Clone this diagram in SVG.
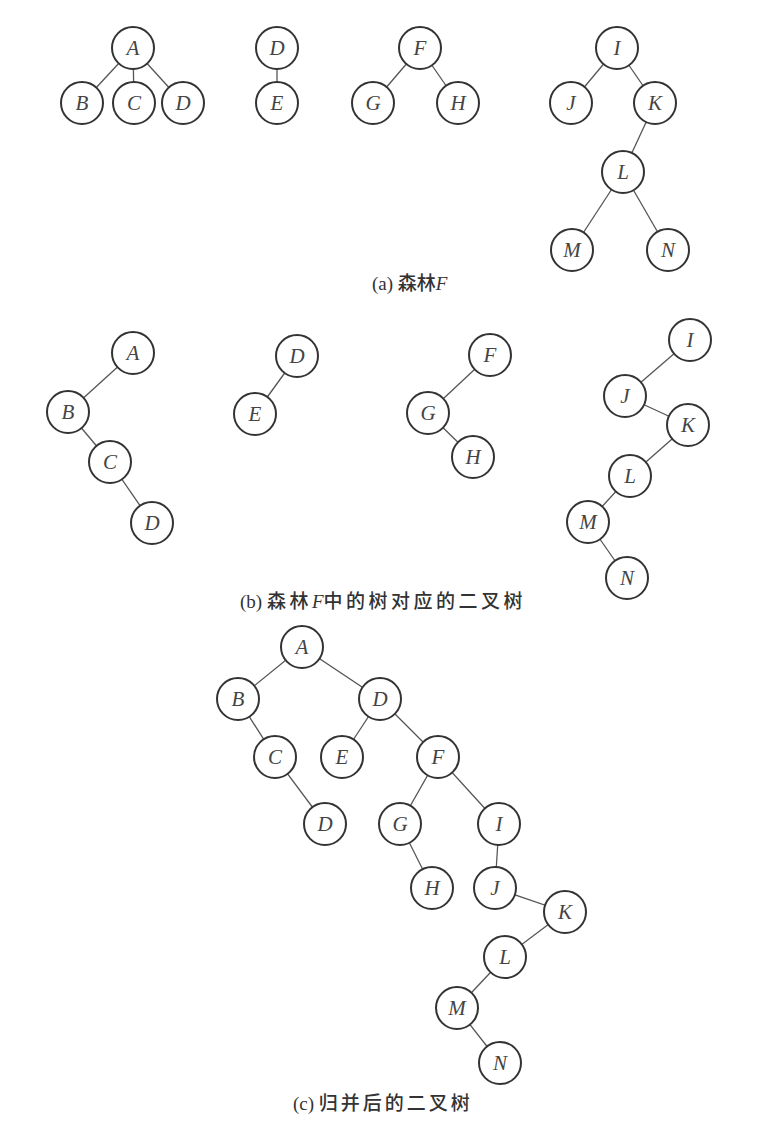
<svg xmlns="http://www.w3.org/2000/svg" width="784" height="1124" viewBox="0 0 784 1124">
<style>
.n circle{fill:#fff;stroke:#333;stroke-width:2}
.n text{font-family:"Liberation Serif",serif;font-style:italic;font-size:21px;fill:#444;text-anchor:middle;dominant-baseline:central}
#edges line{stroke:#555;stroke-width:1.3}
.cap{font-family:"Liberation Serif","Noto Sans CJK SC",serif;font-size:19px;fill:#333}
.cj{font-family:"Noto Sans CJK SC",sans-serif;font-weight:500}
.it{font-style:italic}
</style>
<rect width="784" height="1124" fill="#fff"/>
<g id="edges">
<!-- (a) -->
<line x1="133" y1="48" x2="82" y2="103"/><line x1="133" y1="48" x2="134" y2="103"/><line x1="133" y1="48" x2="183" y2="103"/>
<line x1="277" y1="48" x2="277" y2="103"/>
<line x1="420" y1="48" x2="373" y2="103"/><line x1="420" y1="48" x2="458" y2="103"/>
<line x1="617" y1="48" x2="571" y2="103"/><line x1="617" y1="48" x2="655" y2="103"/>
<line x1="655" y1="103" x2="623" y2="172"/><line x1="623" y1="172" x2="572" y2="250"/><line x1="623" y1="172" x2="668" y2="250"/>
<!-- (b) -->
<line x1="133" y1="353" x2="68" y2="412"/><line x1="68" y1="412" x2="110" y2="462"/><line x1="110" y1="462" x2="152" y2="523"/>
<line x1="297" y1="356" x2="255" y2="414"/>
<line x1="490" y1="355" x2="428" y2="413"/><line x1="428" y1="413" x2="473" y2="457"/>
<line x1="690" y1="340" x2="625" y2="396"/><line x1="625" y1="396" x2="688" y2="425"/><line x1="688" y1="425" x2="630" y2="476"/>
<line x1="630" y1="476" x2="588" y2="522"/><line x1="588" y1="522" x2="627" y2="578"/>
<!-- (c) -->
<line x1="302" y1="647" x2="238" y2="699"/><line x1="302" y1="647" x2="380" y2="699"/>
<line x1="238" y1="699" x2="275" y2="757"/><line x1="275" y1="757" x2="325" y2="824"/>
<line x1="380" y1="699" x2="342" y2="757"/><line x1="380" y1="699" x2="438" y2="757"/>
<line x1="438" y1="757" x2="400" y2="824"/><line x1="438" y1="757" x2="499" y2="824"/>
<line x1="400" y1="824" x2="432" y2="888"/><line x1="499" y1="824" x2="495" y2="888"/>
<line x1="495" y1="888" x2="565" y2="912"/><line x1="565" y1="912" x2="505" y2="957"/>
<line x1="505" y1="957" x2="457" y2="1008"/><line x1="457" y1="1008" x2="500" y2="1063"/>
</g>
<!-- (a) forest -->
<g id="a-A" class="n"><circle cx="133" cy="48" r="21"/><text x="133" y="48">A</text></g>
<g id="a-B" class="n"><circle cx="82" cy="103" r="21"/><text x="82" y="103">B</text></g>
<g id="a-C" class="n"><circle cx="134" cy="103" r="21"/><text x="134" y="103">C</text></g>
<g id="a-D" class="n"><circle cx="183" cy="103" r="21"/><text x="183" y="103">D</text></g>
<g id="a-D2" class="n"><circle cx="277" cy="48" r="21"/><text x="277" y="48">D</text></g>
<g id="a-E" class="n"><circle cx="277" cy="103" r="21"/><text x="277" y="103">E</text></g>
<g id="a-F" class="n"><circle cx="420" cy="48" r="21"/><text x="420" y="48">F</text></g>
<g id="a-G" class="n"><circle cx="373" cy="103" r="21"/><text x="373" y="103">G</text></g>
<g id="a-H" class="n"><circle cx="458" cy="103" r="21"/><text x="458" y="103">H</text></g>
<g id="a-I" class="n"><circle cx="617" cy="48" r="21"/><text x="617" y="48">I</text></g>
<g id="a-J" class="n"><circle cx="571" cy="103" r="21"/><text x="571" y="103">J</text></g>
<g id="a-K" class="n"><circle cx="655" cy="103" r="21"/><text x="655" y="103">K</text></g>
<g id="a-L" class="n"><circle cx="623" cy="172" r="21"/><text x="623" y="172">L</text></g>
<g id="a-M" class="n"><circle cx="572" cy="250" r="21"/><text x="572" y="250">M</text></g>
<g id="a-N" class="n"><circle cx="668" cy="250" r="21"/><text x="668" y="250">N</text></g>
<text class="cap" x="372" y="290">(a) <tspan class="cj">森林</tspan><tspan class="it">F</tspan></text>
<!-- (b) binary trees -->
<g id="b-A" class="n"><circle cx="133" cy="353" r="21"/><text x="133" y="353">A</text></g>
<g id="b-B" class="n"><circle cx="68" cy="412" r="21"/><text x="68" y="412">B</text></g>
<g id="b-C" class="n"><circle cx="110" cy="462" r="21"/><text x="110" y="462">C</text></g>
<g id="b-D" class="n"><circle cx="152" cy="523" r="21"/><text x="152" y="523">D</text></g>
<g id="b-D2" class="n"><circle cx="297" cy="356" r="21"/><text x="297" y="356">D</text></g>
<g id="b-E" class="n"><circle cx="255" cy="414" r="21"/><text x="255" y="414">E</text></g>
<g id="b-F" class="n"><circle cx="490" cy="355" r="21"/><text x="490" y="355">F</text></g>
<g id="b-G" class="n"><circle cx="428" cy="413" r="21"/><text x="428" y="413">G</text></g>
<g id="b-H" class="n"><circle cx="473" cy="457" r="21"/><text x="473" y="457">H</text></g>
<g id="b-I" class="n"><circle cx="690" cy="340" r="21"/><text x="690" y="340">I</text></g>
<g id="b-J" class="n"><circle cx="625" cy="396" r="21"/><text x="625" y="396">J</text></g>
<g id="b-K" class="n"><circle cx="688" cy="425" r="21"/><text x="688" y="425">K</text></g>
<g id="b-L" class="n"><circle cx="630" cy="476" r="21"/><text x="630" y="476">L</text></g>
<g id="b-M" class="n"><circle cx="588" cy="522" r="21"/><text x="588" y="522">M</text></g>
<g id="b-N" class="n"><circle cx="627" cy="578" r="21"/><text x="627" y="578">N</text></g>
<text class="cap" x="240" y="608">(b) <tspan class="cj" letter-spacing="3.5">森林</tspan><tspan class="it">F</tspan><tspan class="cj" letter-spacing="3.5">中的树对应的二叉树</tspan></text>
<!-- (c) merged binary tree -->
<g id="c-A" class="n"><circle cx="302" cy="647" r="21"/><text x="302" y="647">A</text></g>
<g id="c-B" class="n"><circle cx="238" cy="699" r="21"/><text x="238" y="699">B</text></g>
<g id="c-D" class="n"><circle cx="380" cy="699" r="21"/><text x="380" y="699">D</text></g>
<g id="c-C" class="n"><circle cx="275" cy="757" r="21"/><text x="275" y="757">C</text></g>
<g id="c-E" class="n"><circle cx="342" cy="757" r="21"/><text x="342" y="757">E</text></g>
<g id="c-F" class="n"><circle cx="438" cy="757" r="21"/><text x="438" y="757">F</text></g>
<g id="c-D2" class="n"><circle cx="325" cy="824" r="21"/><text x="325" y="824">D</text></g>
<g id="c-G" class="n"><circle cx="400" cy="824" r="21"/><text x="400" y="824">G</text></g>
<g id="c-I" class="n"><circle cx="499" cy="824" r="21"/><text x="499" y="824">I</text></g>
<g id="c-H" class="n"><circle cx="432" cy="888" r="21"/><text x="432" y="888">H</text></g>
<g id="c-J" class="n"><circle cx="495" cy="888" r="21"/><text x="495" y="888">J</text></g>
<g id="c-K" class="n"><circle cx="565" cy="912" r="21"/><text x="565" y="912">K</text></g>
<g id="c-L" class="n"><circle cx="505" cy="957" r="21"/><text x="505" y="957">L</text></g>
<g id="c-M" class="n"><circle cx="457" cy="1008" r="21"/><text x="457" y="1008">M</text></g>
<g id="c-N" class="n"><circle cx="500" cy="1063" r="21"/><text x="500" y="1063">N</text></g>
<text class="cap" x="293" y="1110">(c) <tspan class="cj" letter-spacing="3">归并后的二叉树</tspan></text>
</svg>
